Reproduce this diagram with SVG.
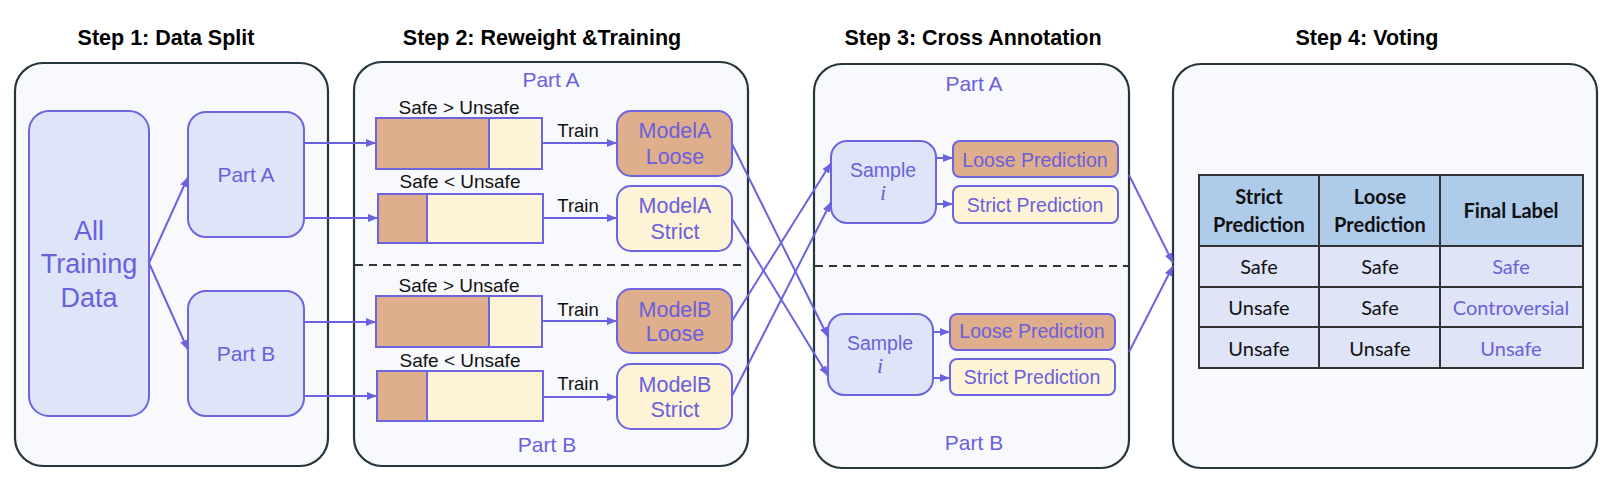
<svg xmlns="http://www.w3.org/2000/svg" width="1614" height="490" viewBox="0 0 1614 490">
<style>
.title{font-family:"Liberation Sans",Arial,sans-serif;font-weight:bold;font-size:21.5px;fill:#000;text-anchor:middle}
.panel{fill:#F8F9FC;stroke:#26343B;stroke-width:2.2}
.node{fill:#DEE5F8;stroke:#6E64E0;stroke-width:2}
.brown{fill:#DFAE8C;stroke:#6E64E0;stroke-width:2}
.cream{fill:#FDF3D6;stroke:#6E64E0;stroke-width:2}
.pt{font-family:"Liberation Sans",Arial,sans-serif;fill:#6A60DE;text-anchor:middle}
.mi{font-family:"Liberation Serif","Times New Roman",serif;font-style:italic;fill:#6A60DE;text-anchor:middle}
.bt{font-family:"Liberation Sans",Arial,sans-serif;fill:#111;text-anchor:middle}
.dash{stroke:#333;stroke-width:2;stroke-dasharray:8,6;fill:none}
.conn line{stroke:#6B62E0;stroke-width:2;marker-end:url(#arr)}
.tb{font-family:Lato,"Open Sans",sans-serif;font-size:20px;text-anchor:middle;fill:#111}
.tbh{font-family:Lato,"Open Sans",sans-serif;font-size:20px;font-weight:bold;text-anchor:middle;fill:#111}
.tgrid{stroke:#333;stroke-width:2;fill:none}
</style>
<defs>
<marker id="arr" markerUnits="userSpaceOnUse" markerWidth="10" markerHeight="8" refX="10" refY="4" orient="auto">
<path d="M0,0 L10,4 L0,8 z" fill="#6B62E0"/>
</marker>
</defs>

<g id="titles">
<text class="title" x="166" y="45">Step 1: Data Split</text>
<text class="title" x="542" y="45">Step 2: Reweight &amp;Training</text>
<text class="title" x="973" y="45">Step 3: Cross Annotation</text>
<text class="title" x="1367" y="45">Step 4: Voting</text>
</g>

<g id="panels">
<rect class="panel" x="15" y="63" width="313" height="403" rx="28"/>
<rect class="panel" x="354" y="62" width="394" height="404" rx="28"/>
<rect class="panel" x="814" y="64" width="315" height="404" rx="28"/>
<rect class="panel" x="1173" y="64" width="424" height="404" rx="28"/>
<line class="dash" x1="355" y1="265" x2="747" y2="265"/>
<line class="dash" x1="815" y1="266" x2="1128" y2="266"/>
<text class="pt" x="551" y="87" font-size="21">Part A</text>
<text class="pt" x="547" y="452" font-size="21">Part B</text>
<text class="pt" x="974" y="91" font-size="21">Part A</text>
<text class="pt" x="974" y="450" font-size="21">Part B</text>
</g>

<g id="all-data">
<rect class="node" x="29" y="111" width="120" height="305" rx="20"/>
<text class="pt" x="89" y="240" font-size="27">All</text>
<text class="pt" x="89" y="273" font-size="27">Training</text>
<text class="pt" x="89" y="307" font-size="27">Data</text>
</g>
<g id="part-a">
<rect class="node" x="188" y="112" width="116" height="125" rx="18"/>
<text class="pt" x="246" y="182" font-size="21">Part A</text>
</g>
<g id="part-b">
<rect class="node" x="188" y="291" width="116" height="125" rx="18"/>
<text class="pt" x="246" y="361" font-size="21">Part B</text>
</g>

<g id="bar-a1">
<text class="bt" x="459" y="114" font-size="19">Safe &gt; Unsafe</text>
<rect class="brown" x="376" y="118" width="113" height="51"/>
<rect class="cream" x="489" y="118" width="53" height="51"/>
</g>
<g id="bar-a2">
<text class="bt" x="460" y="188" font-size="19">Safe &lt; Unsafe</text>
<rect class="brown" x="378" y="194" width="49" height="49"/>
<rect class="cream" x="427" y="194" width="116" height="49"/>
</g>
<g id="bar-b1">
<text class="bt" x="459" y="292" font-size="19">Safe &gt; Unsafe</text>
<rect class="brown" x="376" y="296" width="113" height="51"/>
<rect class="cream" x="489" y="296" width="53" height="51"/>
</g>
<g id="bar-b2">
<text class="bt" x="460" y="367" font-size="19">Safe &lt; Unsafe</text>
<rect class="brown" x="377" y="371" width="50" height="50"/>
<rect class="cream" x="427" y="371" width="116" height="50"/>
</g>

<g id="train-labels">
<text class="bt" x="578" y="137" font-size="18.5">Train</text>
<text class="bt" x="578" y="212" font-size="18.5">Train</text>
<text class="bt" x="578" y="316" font-size="18.5">Train</text>
<text class="bt" x="578" y="390" font-size="18.5">Train</text>
</g>

<g id="modelA-loose">
<rect class="brown" x="617" y="111" width="115" height="65" rx="14"/>
<text class="pt" x="675" y="138" font-size="21.5">ModelA</text>
<text class="pt" x="675" y="164" font-size="21.5">Loose</text>
</g>
<g id="modelA-strict">
<rect class="cream" x="617" y="186" width="115" height="65" rx="14"/>
<text class="pt" x="675" y="213" font-size="21.5">ModelA</text>
<text class="pt" x="675" y="239" font-size="21.5">Strict</text>
</g>
<g id="modelB-loose">
<rect class="brown" x="617" y="289" width="115" height="64" rx="14"/>
<text class="pt" x="675" y="317" font-size="21.5">ModelB</text>
<text class="pt" x="675" y="341" font-size="21.5">Loose</text>
</g>
<g id="modelB-strict">
<rect class="cream" x="617" y="364" width="115" height="65" rx="14"/>
<text class="pt" x="675" y="392" font-size="21.5">ModelB</text>
<text class="pt" x="675" y="417" font-size="21.5">Strict</text>
</g>

<g id="sample-a">
<rect class="node" x="831" y="141" width="105" height="82" rx="16"/>
<text class="pt" x="883" y="177" font-size="19.5">Sample</text>
<text class="mi" x="883" y="200" font-size="22">i</text>
</g>
<g id="loose-pred-a">
<rect class="brown" x="953" y="141" width="165" height="36" rx="7"/>
<text class="pt" x="1035" y="167" font-size="19.5">Loose Prediction</text>
</g>
<g id="strict-pred-a">
<rect class="cream" x="953" y="186" width="165" height="37" rx="7"/>
<text class="pt" x="1035" y="212" font-size="19.5">Strict Prediction</text>
</g>
<g id="sample-b">
<rect class="node" x="828" y="314" width="105" height="81" rx="16"/>
<text class="pt" x="880" y="350" font-size="19.5">Sample</text>
<text class="mi" x="880" y="373" font-size="22">i</text>
</g>
<g id="loose-pred-b">
<rect class="brown" x="950" y="314" width="165" height="36" rx="7"/>
<text class="pt" x="1032" y="338" font-size="19.5">Loose Prediction</text>
</g>
<g id="strict-pred-b">
<rect class="cream" x="950" y="359" width="165" height="36" rx="7"/>
<text class="pt" x="1032" y="384" font-size="19.5">Strict Prediction</text>
</g>

<g id="voting-table">
<rect x="1199" y="175" width="384" height="71" fill="#AECBEA"/>
<rect x="1199" y="246" width="384" height="122" fill="#DFE5F7"/>
<rect class="tgrid" x="1199" y="175" width="384" height="193"/>
<line class="tgrid" x1="1319" y1="175" x2="1319" y2="368"/>
<line class="tgrid" x1="1440" y1="175" x2="1440" y2="368"/>
<line class="tgrid" x1="1199" y1="246" x2="1583" y2="246"/>
<line class="tgrid" x1="1199" y1="287" x2="1583" y2="287"/>
<line class="tgrid" x1="1199" y1="327" x2="1583" y2="327"/>
<text class="tbh" x="1259" y="204">Strict</text>
<text class="tbh" x="1259" y="232">Prediction</text>
<text class="tbh" x="1380" y="204">Loose</text>
<text class="tbh" x="1380" y="232">Prediction</text>
<text class="tbh" x="1511" y="218">Final Label</text>
<text class="tb" x="1259" y="274">Safe</text>
<text class="tb" x="1380" y="274">Safe</text>
<text class="tb" x="1511" y="274" style="fill:#6A60DE">Safe</text>
<text class="tb" x="1259" y="315">Unsafe</text>
<text class="tb" x="1380" y="315">Safe</text>
<text class="tb" x="1511" y="315" style="fill:#6A60DE">Controversial</text>
<text class="tb" x="1259" y="356">Unsafe</text>
<text class="tb" x="1380" y="356">Unsafe</text>
<text class="tb" x="1511" y="356" style="fill:#6A60DE">Unsafe</text>
</g>

<g id="connectors" class="conn">
<line x1="149" y1="263" x2="188" y2="177"/>
<line x1="149" y1="263" x2="188" y2="350"/>
<line x1="304" y1="143" x2="376" y2="143"/>
<line x1="304" y1="218" x2="378" y2="218"/>
<line x1="304" y1="322" x2="376" y2="322"/>
<line x1="304" y1="396" x2="377" y2="396"/>
<line x1="542" y1="143" x2="617" y2="143"/>
<line x1="543" y1="218" x2="617" y2="218"/>
<line x1="542" y1="321" x2="617" y2="321"/>
<line x1="543" y1="397" x2="617" y2="397"/>
<line x1="732" y1="144" x2="828" y2="337"/>
<line x1="732" y1="219" x2="828" y2="376"/>
<line x1="732" y1="321" x2="831" y2="163"/>
<line x1="732" y1="396" x2="831" y2="202"/>
<line x1="936" y1="158" x2="953" y2="158"/>
<line x1="936" y1="204" x2="953" y2="204"/>
<line x1="933" y1="332" x2="950" y2="332"/>
<line x1="933" y1="378" x2="950" y2="378"/>
<line x1="1129" y1="175" x2="1173" y2="263"/>
<line x1="1129" y1="352" x2="1173" y2="266"/>
</g>
</svg>
